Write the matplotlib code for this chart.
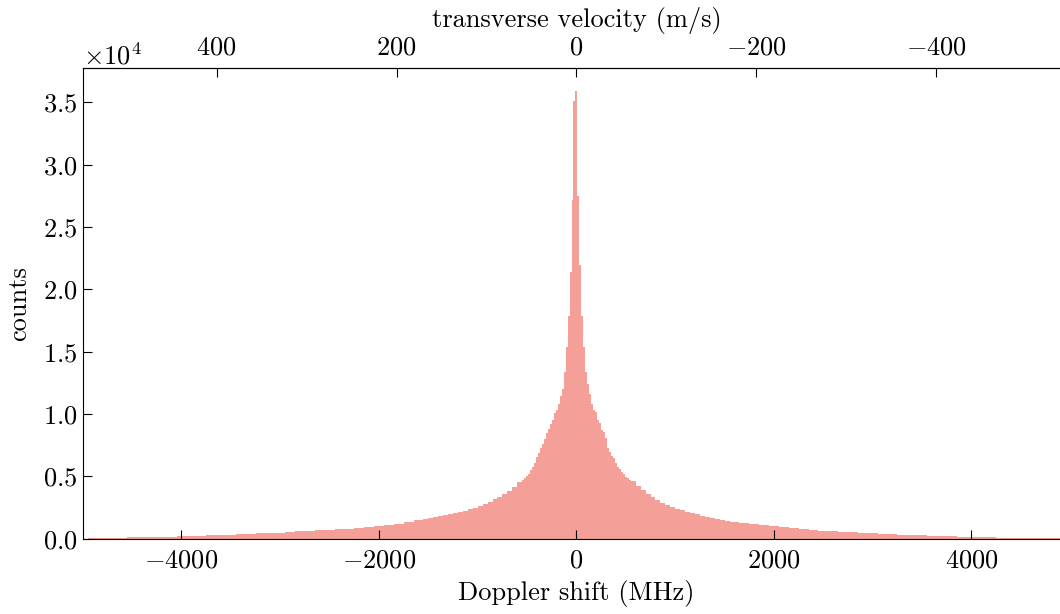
import numpy as np
import matplotlib
matplotlib.use("Agg")
import matplotlib.pyplot as plt

plt.rcParams.update({
    "font.family": "serif",
    "font.serif": ["cmr10"],
    "mathtext.fontset": "cm",
    "axes.formatter.use_mathtext": True,
    "axes.unicode_minus": True,
    "font.size": 19,
})

# Bin heights (counts), grouped by bin width
left_outer = [50, 65, 80, 95, 110, 130, 145, 160, 175, 190, 215, 240, 265, 295, 330, 360, 390,
              420, 450, 480, 530, 580, 620, 670, 710, 760, 810, 880, 950, 1020, 1100, 1210, 1330, 1480]
left_mid = [1570, 1650, 1730, 1800, 1880, 1960, 2050, 2140, 2260, 2380, 2490, 2620, 2760, 2950,
            3150, 3350, 3600, 3850, 4150, 4550]
center = [4700, 4860, 5020, 5180, 5500, 5720, 6090, 6520, 6890, 7240, 7590, 7960, 8440, 8840,
          9240, 9560, 10090, 10360, 10790, 11450, 11970, 13350, 15350, 17840, 21390, 27200, 35140,
          35940,
          27520, 21920, 17840, 15350, 13350, 12390, 11590, 10790, 10310, 10170, 9560, 9290, 8760,
          8570, 8040, 7240, 6970, 6620, 6440, 6090, 5770, 5560, 5370, 5180, 4970, 4860, 4700]
right_mid = [4620, 4250, 3900, 3580, 3320, 3080, 2870, 2680, 2540, 2420, 2310, 2180, 2070, 1960,
             1860, 1780, 1700, 1620, 1540, 1460]
right_outer = [1350, 1250, 1150, 1080, 1010, 930, 850, 770, 710, 650, 600, 550, 510, 470, 430, 390,
               350, 315, 290, 260, 235, 215, 190, 165, 145, 125, 105, 90, 80, 70, 60, 50, 45, 40]

bottom_ticks = [-4000, -2000, 0, 2000, 4000]
top_ticks = [-400, -200, 0, 200, 400]
y_ticks = [0, 5000, 10000, 15000, 20000, 25000, 30000, 35000]
K = 0.1098  # m/s per MHz

counts = np.array(left_outer + left_mid + center + right_mid + right_outer, dtype=float)
edges = np.concatenate([
    np.arange(-4950, -1550, 100),
    np.arange(-1550, -550, 50),
    np.arange(-550, 550, 20),
    np.arange(550, 1550, 50),
    np.arange(1550, 4951, 100),
])

fig = plt.figure(figsize=(10.6, 6.14), dpi=100)
ax = fig.add_axes([82.7 / 1060, 1 - 538.7 / 614, 987.5 / 1060, (538.7 - 68.3) / 614])
ax.fill_between(edges, np.append(counts, counts[-1]), 0, step="post",
                color="#F49F97", linewidth=0)
ax.set_xlim(-5000, 5000)
ax.set_ylim(0, counts.max() * 1.05)
ax.set_xticks(bottom_ticks)
ax.set_yticks(y_ticks)
ax.ticklabel_format(axis="y", style="sci", scilimits=(0, 0))
ax.tick_params(direction="in", length=6.5, width=0.8, top=False, right=False)
ax.tick_params(axis="x", pad=7)
ax.tick_params(axis="y", pad=4)
ax.spines["right"].set_visible(False)
ax.set_xlabel("Doppler shift (MHz)", labelpad=6)
ax.set_ylabel("counts", labelpad=8)

sec = ax.secondary_xaxis("top", functions=(lambda f: -f * K, lambda v: -v / K))
sec.set_xticks(top_ticks)
sec.tick_params(direction="in", length=6.5, width=0.8, pad=6)
sec.set_xlabel("transverse velocity (m/s)", labelpad=7)

fig.savefig("out.png", dpi=100)
